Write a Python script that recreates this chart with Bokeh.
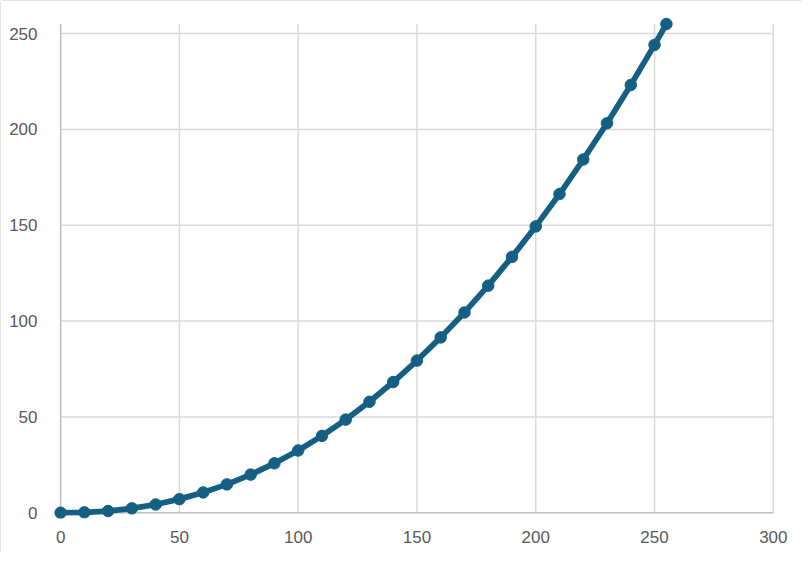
from bokeh.plotting import figure
from bokeh.models import Range1d, FixedTicker
from bokeh.embed import file_html
from bokeh.resources import INLINE

# data
x_vals = [0, 10, 20, 30, 40, 50, 60, 70, 80, 90, 100, 110, 120, 130, 140, 150,
          160, 170, 180, 190, 200, 210, 220, 230, 240, 250, 255]
y_vals = [0, 0.2, 0.9, 2.3, 4.3, 7.1, 10.6, 14.8, 19.9, 25.8, 32.5, 40.1, 48.6,
          57.9, 68.2, 79.4, 91.5, 104.5, 118.5, 133.5, 149.4, 166.3, 184.3,
          203.2, 223.2, 244.1, 255]
x_ticks = [0, 50, 100, 150, 200, 250, 300]
y_ticks = [0, 50, 100, 150, 200, 250]
x_axis_max = 300
y_axis_max = 255

COLOR = "#156082"
FONT = "Liberation Sans"
GRID = "#d9d9d9"
AXIS = "#bfbfbf"

p = figure(width=803, height=553, output_backend="svg", toolbar_location=None,
           x_range=Range1d(-3, 300.5), y_range=Range1d(-3, 261),
           min_border_left=53, min_border_right=29, min_border_top=12,
           min_border_bottom=35)
p.outline_line_color = None
p.styles = {"outline": "1px solid #d9d9d9", "outline-offset": "-1px",
            "border-radius": "3px"}

for ax, ticks in ((p.xaxis, x_ticks), (p.yaxis, y_ticks)):
    ax.ticker = FixedTicker(ticks=ticks)
    ax.axis_line_color = None
    ax.major_tick_line_color = None
    ax.minor_tick_line_color = None
    ax.major_label_text_font = FONT
    ax.major_label_text_font_size = "17px"
    ax.major_label_text_color = "#595959"
p.xaxis.major_label_standoff = 6
p.yaxis.major_label_standoff = 10

p.grid.visible = False

# grid lines limited to the axis extents
n_x = len(x_ticks) - 1
n_y = len(y_ticks) - 1
p.segment(x0=x_ticks[1:], y0=[0] * n_x, x1=x_ticks[1:], y1=[y_axis_max] * n_x,
          line_color=GRID, line_width=1.5)
p.segment(x0=[0] * n_y, y0=y_ticks[1:], x1=[x_axis_max] * n_y, y1=y_ticks[1:],
          line_color=GRID, line_width=1.5)
# axis lines at zero
p.segment(x0=[0, 0], y0=[0, 0], x1=[0, x_axis_max], y1=[y_axis_max, 0],
          line_color=AXIS, line_width=1.5)

p.line(x_vals, y_vals, line_color=COLOR, line_width=5.75, line_join="round")
p.scatter(x_vals, y_vals, size=11.5, fill_color=COLOR, line_color=COLOR)

open("out.html", "w").write(file_html(p, INLINE))
